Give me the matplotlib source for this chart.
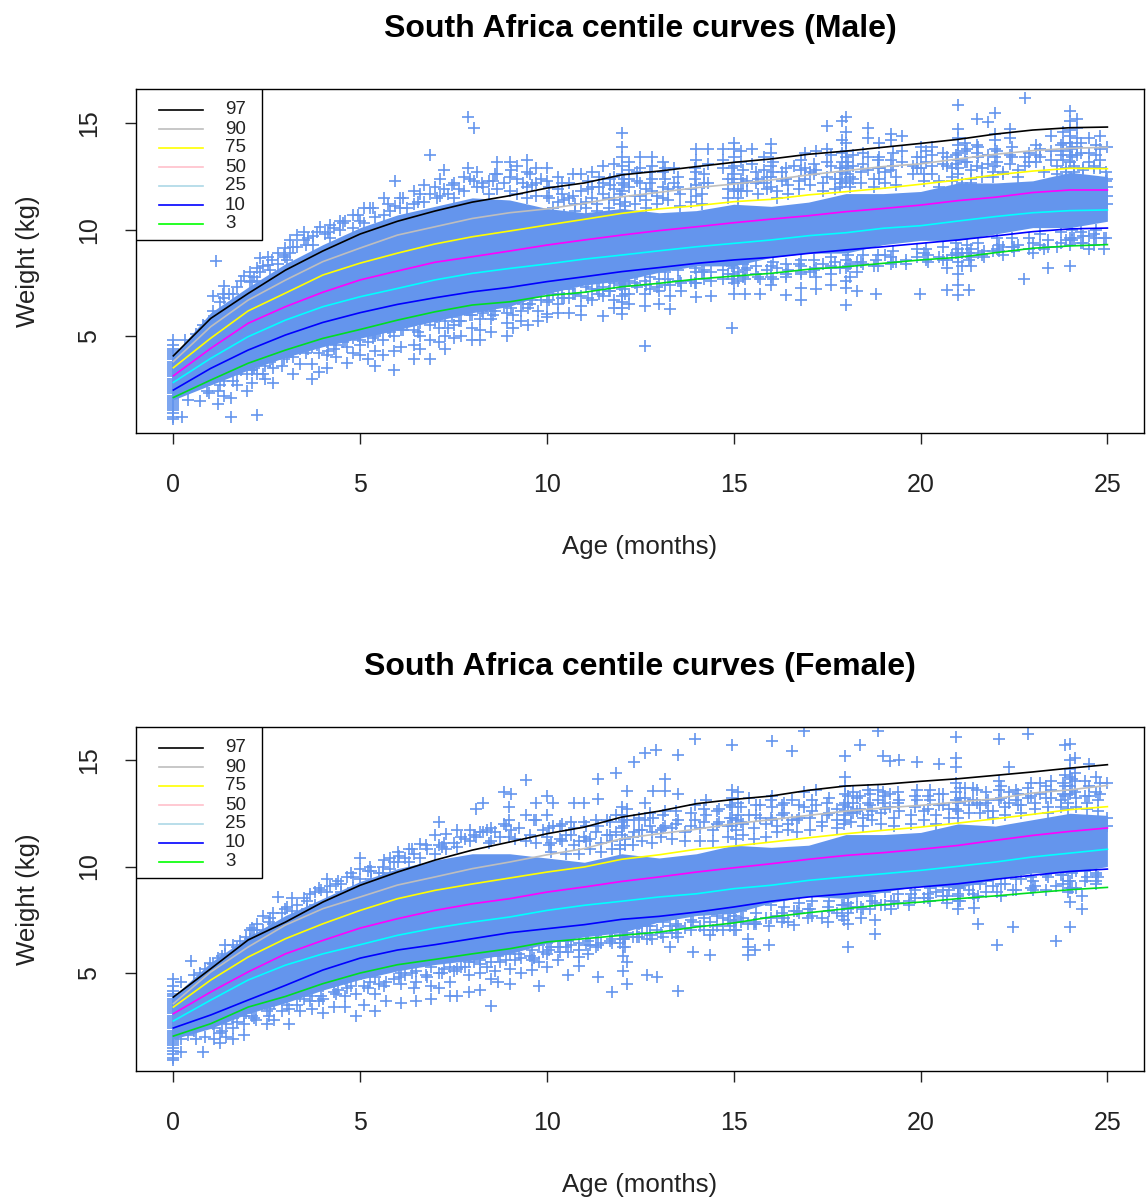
import numpy as np
import matplotlib
matplotlib.use("Agg")
import matplotlib.pyplot as plt
from matplotlib.patches import Rectangle

plt.rcParams['font.family'] = ['Liberation Sans', 'DejaVu Sans']

# centile curves at each month
curve_ages = [0, 1, 2, 3, 4, 5, 6, 7, 8, 9, 10, 11, 12, 13, 14, 15, 16, 17, 18, 19, 20, 21, 22, 23, 24, 25]
centile_labels = ['97', '90', '75', '50', '25', '10', '3']
curve_colors = ['black', '#BEBEBE', 'yellow', 'magenta', 'cyan', 'blue', '#00DD22']
legend_colors = ['black', '#BEBEBE', 'yellow', 'pink', 'lightblue', 'blue', 'lime']

male_curves = [
    [4.07, 5.83, 7.0, 8.1, 9.0, 9.8, 10.4, 10.88, 11.3, 11.6, 11.96, 12.2, 12.58, 12.76, 12.97, 13.17, 13.33, 13.55, 13.7, 13.88, 14.06, 14.25, 14.5, 14.69, 14.8, 14.83],
    [3.8, 5.44, 6.69, 7.63, 8.5, 9.14, 9.75, 10.14, 10.53, 10.8, 10.98, 11.24, 11.55, 11.76, 11.98, 12.15, 12.34, 12.58, 12.78, 12.97, 13.1, 13.33, 13.55, 13.72, 13.83, 13.88],
    [3.51, 4.9, 6.18, 7.02, 7.87, 8.43, 8.9, 9.33, 9.67, 9.94, 10.22, 10.49, 10.77, 10.98, 11.13, 11.32, 11.43, 11.64, 11.79, 11.95, 12.14, 12.34, 12.58, 12.76, 12.89, 12.87],
    [3.13, 4.42, 5.6, 6.38, 7.06, 7.64, 8.06, 8.47, 8.73, 9.0, 9.28, 9.52, 9.75, 9.96, 10.14, 10.33, 10.5, 10.66, 10.85, 11.0, 11.16, 11.37, 11.53, 11.75, 11.87, 11.87],
    [2.82, 3.95, 4.97, 5.75, 6.38, 6.85, 7.24, 7.64, 7.95, 8.18, 8.39, 8.62, 8.81, 9.01, 9.2, 9.36, 9.52, 9.72, 9.86, 10.07, 10.19, 10.41, 10.62, 10.8, 10.9, 10.93],
    [2.46, 3.48, 4.34, 5.05, 5.64, 6.1, 6.49, 6.8, 7.08, 7.29, 7.56, 7.79, 8.03, 8.22, 8.42, 8.58, 8.7, 8.89, 9.05, 9.2, 9.36, 9.52, 9.71, 9.91, 10.04, 10.08],
    [2.11, 2.93, 3.72, 4.34, 4.89, 5.31, 5.75, 6.14, 6.46, 6.61, 6.9, 7.06, 7.32, 7.48, 7.68, 7.82, 7.95, 8.14, 8.26, 8.42, 8.58, 8.7, 8.92, 9.13, 9.24, 9.3],
]
female_curves = [
    [3.87, 5.2, 6.55, 7.39, 8.33, 9.12, 9.74, 10.3, 10.77, 11.15, 11.54, 11.85, 12.32, 12.6, 12.95, 13.15, 13.31, 13.58, 13.78, 13.86, 14.0, 14.12, 14.28, 14.44, 14.62, 14.78],
    [3.56, 5.05, 6.22, 7.25, 8.02, 8.57, 9.13, 9.51, 9.9, 10.21, 10.55, 10.84, 11.31, 11.54, 11.75, 12.01, 12.2, 12.4, 12.6, 12.75, 12.87, 13.03, 13.18, 13.45, 13.6, 13.81],
    [3.4, 4.67, 5.75, 6.61, 7.31, 7.94, 8.49, 8.88, 9.18, 9.46, 9.74, 9.98, 10.34, 10.55, 10.81, 10.96, 11.15, 11.35, 11.54, 11.7, 11.85, 12.04, 12.24, 12.45, 12.67, 12.81],
    [3.09, 4.11, 5.05, 5.9, 6.53, 7.11, 7.55, 7.94, 8.25, 8.49, 8.8, 9.04, 9.3, 9.51, 9.74, 9.94, 10.13, 10.34, 10.52, 10.65, 10.81, 10.99, 11.23, 11.46, 11.65, 11.81],
    [2.75, 3.73, 4.67, 5.37, 5.9, 6.33, 6.77, 7.11, 7.39, 7.63, 7.94, 8.18, 8.37, 8.57, 8.72, 8.96, 9.12, 9.35, 9.51, 9.66, 9.82, 10.01, 10.21, 10.45, 10.63, 10.81],
    [2.42, 3.03, 3.73, 4.42, 5.14, 5.7, 6.08, 6.33, 6.61, 6.89, 7.08, 7.27, 7.52, 7.66, 7.86, 8.1, 8.37, 8.57, 8.72, 8.88, 9.04, 9.19, 9.4, 9.59, 9.77, 9.88],
    [2.04, 2.62, 3.4, 3.9, 4.5, 5.0, 5.39, 5.64, 5.9, 6.14, 6.46, 6.61, 6.77, 6.92, 7.16, 7.35, 7.63, 7.83, 8.02, 8.21, 8.33, 8.49, 8.62, 8.77, 8.91, 9.02],
]

# where the overlapping crosses merge into solid colour (edges)
male_solid_high = [4.1, 6.1, 7.3, 8.4, 9.3, 10.1, 10.7, 11.1, 11.5, 11.4, 11.0, 10.8, 11.0, 10.8, 10.9, 11.2, 11.1, 11.3, 11.7, 11.7, 11.8, 12.2, 12.2, 12.3, 12.7, 12.5]
male_solid_low = [2.0, 2.7, 3.4, 4.0, 4.5, 4.9, 5.3, 5.7, 6.1, 6.4, 7.0, 7.4, 7.6, 8.0, 8.3, 8.3, 8.7, 8.9, 8.9, 9.3, 9.5, 9.5, 9.8, 10.1, 10.1, 10.4]
female_solid_high = [3.9, 5.5, 6.7, 7.7, 8.5, 9.3, 9.9, 10.3, 10.6, 10.6, 10.4, 10.2, 10.6, 10.4, 10.6, 11.0, 10.9, 11.0, 11.5, 11.5, 11.6, 12.0, 11.9, 12.2, 12.5, 12.4]
female_solid_low = [1.9, 2.4, 3.1, 3.6, 4.2, 4.7, 5.1, 5.4, 5.6, 5.9, 6.4, 6.7, 6.9, 7.4, 7.7, 7.8, 8.3, 8.6, 8.5, 8.8, 9.1, 9.0, 9.4, 9.7, 9.7, 10.0]

# column of birth weights at age 0
male_birth = [1.1, 1.2, 1.4, 1.5, 1.6, 1.7, 1.8, 1.9, 2.0, 2.1, 2.2, 2.3, 2.4, 2.5, 2.6, 2.7, 2.8, 2.9, 3.0, 3.1, 3.2, 3.3, 3.4, 3.5, 3.6, 3.7, 3.8, 3.9, 4.0, 4.1, 4.2, 4.3, 4.4, 4.6, 4.8]
female_birth = [0.9, 1.0, 1.2, 1.35, 1.5, 1.6, 1.7, 1.8, 1.9, 2.0, 2.1, 2.2, 2.3, 2.4, 2.5, 2.6, 2.7, 2.8, 2.9, 3.0, 3.1, 3.2, 3.3, 3.4, 3.5, 3.6, 3.7, 3.8, 3.9, 4.0, 4.15, 4.4, 4.7]

# crosses above the solid part
male_upper_ages = [0.3, 0.6, 0.8, 1.06, 1.14, 1.33, 1.36, 1.5, 1.7, 1.89, 2.05, 2.23, 2.32, 2.54, 2.8, 3.0, 3.12, 3.3, 3.5, 3.75, 3.93, 4.2, 4.46, 4.82, 5.1, 5.27, 5.63, 5.94, 6.07, 6.43, 6.7, 6.88, 7.15, 7.24, 7.5, 7.77, 7.89, 8.04, 8.13, 8.44, 8.67, 9.0, 9.2, 9.47, 9.7,
                   10.0, 10.3, 10.6, 10.9, 11.2, 11.5, 11.8, 12.0, 12.2, 12.5, 12.8, 13.1, 13.4, 14.0, 14.3, 14.7, 15.0, 15.2, 15.5, 15.8, 16.0, 16.3, 16.6, 16.9, 17.2, 17.5, 17.9, 18.0, 18.2, 18.6, 18.9, 19.2, 19.5, 19.8, 20.0, 20.3, 20.7, 21.0, 21.2, 21.5, 21.8, 22.0, 22.4, 22.8, 23.1, 23.5, 23.8, 24.0, 24.2, 24.5, 24.8, 25.0]
male_upper_wts = [[4.8], [5.1], [5.5], [6.9, 6.2], [8.53], [7.0], [7.35, 6.8], [7.0], [7.3], [7.82], [7.55, 8.0], [7.6, 8.2], [8.67, 8.0], [8.35, 8.7], [8.9, 8.4], [9.14, 8.7], [8.9, 9.5], [9.75, 9.2], [9.5, 9.9], [9.7, 9.3], [10.13], [10.2, 9.6], [10.0, 10.4], [10.7, 10.1], [11.0, 10.3], [11.0], [11.5, 10.7], [12.3, 11.1], [11.5, 11.0], [11.8, 11.2], [12.1, 11.3], [13.52, 11.7], [12.4, 11.6], [12.8, 11.9], [12.2, 11.5], [12.5, 11.8], [15.3, 12.9], [14.8, 12.3], [12.7, 12.0], [12.3, 11.7], [13.2, 12.6, 11.9], [13.2, 12.5, 11.8], [12.4, 13.0, 11.7], [13.3, 12.7, 12.0, 11.5], [12.9, 12.2, 11.6],
                  [12.3, 12.9, 11.6], [11.9, 12.5, 11.3], [12.2, 11.5], [12.6, 11.8, 11.2], [12.7, 12.0, 11.5], [13.0, 12.2, 11.7], [13.1, 12.5, 11.9, 11.4], [14.55, 13.9, 13.4, 13.0, 12.6, 12.2, 11.8], [13.2, 12.8, 12.4, 12.0], [13.4, 12.9, 12.2, 11.6], [13.4, 13.0, 12.4, 11.8], [13.2, 12.7, 12.0, 11.5], [12.9, 12.2], [13.8, 13.3, 12.7, 12.1, 11.6], [13.8, 13.1, 12.2], [13.8, 13.3, 12.9], [14.1, 13.8, 13.4, 13.0, 12.6, 12.2, 11.8], [13.7, 13.2, 12.4, 11.8], [13.8, 13.1], [13.4, 12.8, 12.2], [14.05, 13.6, 13.0, 12.5, 12.0], [12.7, 12.3], [13.0], [13.6, 12.9, 12.4], [13.7, 12.8], [14.9, 13.8, 13.2, 12.5], [15.1, 14.2, 13.6, 13.2, 12.7, 12.2], [15.3, 14.6, 14.1, 13.7, 13.4, 13.0, 12.6, 12.3], [13.5, 13.0, 12.4], [14.8, 14.3, 13.4, 12.8], [14.1, 13.4, 12.9, 12.4], [14.5, 14.2, 13.3, 12.8], [14.4, 13.7, 13.2], [13.0, 12.6], [13.9, 13.4, 12.9], [13.9, 13.5, 13.0, 12.6], [13.4, 13.0], [15.85, 14.75, 14.3, 14.0, 13.6, 13.3, 12.9, 12.6], [14.1, 13.7, 13.2], [15.2, 14.0, 13.6, 13.0], [15.05, 13.5, 13.1], [15.5, 14.5, 14.2, 13.8, 13.4, 13.0], [14.75, 14.3, 13.5, 13.1], [16.2, 13.4, 13.0], [14.0, 13.5, 13.2], [14.4, 13.7, 13.3], [14.6, 14.1, 13.7, 13.3], [15.1, 15.6, 14.7, 14.4, 14.1, 13.8, 13.5, 13.2], [15.2, 14.8, 14.3, 13.9, 13.5], [14.3, 13.6, 13.2], [14.4, 13.8, 13.3, 12.9], [13.9, 12.4, 12.0, 11.6, 11.2]]

# crosses below the solid part
male_lower_ages = [0.23, 0.4, 0.72, 0.9, 1.2, 1.35, 1.53, 1.7, 1.96, 2.1, 2.25, 2.45, 2.67, 2.9, 3.2, 3.4, 3.7, 3.9, 4.1, 4.35, 4.64, 4.8, 5.0, 5.2, 5.4, 5.6, 5.9, 6.1, 6.43, 6.6, 6.88, 7.1, 7.28, 7.5, 7.7, 8.0, 8.2, 8.5, 8.94, 9.1, 9.3, 9.5, 9.76,
                   10.0, 10.3, 10.6, 10.9, 11.2, 11.5, 11.8, 12.0, 12.2, 12.63, 13.0, 13.3, 13.6, 14.0, 14.4, 14.7, 14.95, 15.0, 15.3, 15.7, 16.0, 16.4, 16.8, 17.2, 17.6, 18.0, 18.3, 18.8, 19.2, 19.6, 19.98, 20.2, 20.7, 21.0, 21.3, 21.7, 22.1, 22.5, 22.78, 23.0, 23.4, 24.0, 24.5, 24.9]
male_lower_wts = [[1.2], [2.0], [1.95], [2.4], [1.8, 2.4], [2.2, 2.9], [1.2, 2.1], [2.7, 3.2], [2.4, 3.2], [2.8, 3.4], [1.3, 3.2], [3.0, 3.6], [2.8, 3.5, 4.1], [3.6, 4.2], [3.2, 4.0, 4.6], [3.7, 4.4], [3.0, 3.7, 4.5], [3.3, 4.2, 4.7], [3.5, 4.1, 4.7], [4.0, 4.6], [3.75, 4.5, 5.0], [4.2, 4.9], [4.1, 4.6, 5.1], [3.9, 4.7], [3.6, 4.3, 5.1], [4.1, 4.8, 5.4], [3.4, 4.3, 5.0], [4.5, 5.3], [3.9, 4.6, 5.3], [4.4, 5.0], [3.9, 4.8, 5.5], [4.7, 5.4], [4.4, 5.0, 5.7], [4.9, 5.5], [5.0, 5.7], [4.8, 5.4, 6.0], [4.8, 5.3, 5.8], [5.2, 5.8, 6.2], [5.0, 5.6, 6.1], [5.4, 6.0], [5.7, 6.2], [5.5, 6.3], [5.7, 6.2],
                  [7.1, 6.6, 6.05, 5.9], [7.0, 6.5, 6.1], [7.2, 6.8, 6.1], [6.9, 6.0, 6.4], [7.2, 6.7], [7.3, 6.9, 5.95], [7.5, 6.7, 6.3], [7.6, 7.2, 6.9, 6.6, 6.3, 6.05], [7.6, 7.0, 6.5], [7.6, 7.0, 6.4, 4.53], [7.7, 7.1, 6.5], [7.4, 6.9, 6.25], [7.5, 7.1], [8.0, 7.5, 6.85], [8.0, 7.6, 6.9], [8.1, 7.7], [5.4], [8.2, 7.9, 7.5, 7.0], [8.1, 7.7, 7.0], [7.7, 7.0], [8.3, 7.8, 7.4], [7.8, 6.95], [8.3, 7.9, 7.25, 6.7], [8.2, 7.8, 7.2], [8.3, 7.9, 7.4], [8.6, 8.2, 7.6, 7.25, 6.45], [8.5, 8.0, 7.1], [8.6, 7.0], [8.7, 8.4], [8.6, 8.4], [7.0], [8.8, 8.5], [8.6, 8.2, 7.15], [9.1, 8.8, 8.5, 7.9, 7.4, 6.95], [8.9, 8.6, 7.15], [9.0, 8.7], [9.3, 9.0], [9.2, 9.0], [7.7], [9.4, 8.9], [9.5, 9.2, 8.2], [9.6, 9.3, 8.3], [9.7, 9.1], [9.6, 9.1]]

# crosses filling in between the solid part and the outer fringes
male_fill_ages = [0.5, 0.95, 1.25, 1.6, 1.8, 2.15, 2.4, 2.65, 2.95, 3.2, 3.6, 3.85, 4.05, 4.3, 4.6, 5.0, 5.4, 5.8, 6.25, 6.55, 7.05, 7.35, 7.65, 8.3, 8.55, 8.85, 9.35, 9.6, 9.85,
                  10.15, 10.45, 10.75, 11.05, 11.35, 11.65, 11.95, 12.1, 12.35, 12.65, 12.95, 13.25, 13.55, 13.85, 14.15, 14.85, 15.1, 15.35, 15.65, 15.9, 16.15, 16.45, 16.75, 17.05, 17.4, 17.7, 17.85, 18.1, 18.4, 18.75, 19.05, 19.35, 20.1, 20.5, 20.85, 21.1, 21.35, 21.65, 21.95, 22.2, 22.6, 23.3, 23.65, 23.9, 24.1, 24.35, 24.65, 24.95]
male_fill_wts = [[4.4, 3.5], [5.7, 2.3], [6.6, 2.7], [7.0, 2.9], [7.6, 3.4], [7.8, 3.5], [8.3, 3.2], [8.6, 3.9], [8.8, 3.9], [9.2, 4.3], [9.6, 4.4], [9.9, 4.6], [9.8, 4.9], [10.1, 4.4], [10.4, 4.8], [10.4, 4.8], [10.6, 5.0], [10.9, 5.2], [11.0, 5.5], [11.3, 5.2], [11.5, 5.9], [11.7, 5.4], [11.9, 5.7], [12.0, 6.1], [12.3, 6.0], [12.2, 6.4], [12.2, 6.5], [12.1, 6.7], [12.4, 6.7],
                 [10.5, 11.0, 7.0], [10.7, 11.4, 6.8], [10.9, 11.2, 7.0], [11.3, 11.0, 7.3], [11.2, 10.9, 7.2], [11.5, 11.0, 7.1], [11.7, 11.2, 7.4], [11.3, 11.1, 10.9, 7.4, 7.0], [11.6, 11.2, 7.5], [11.9, 11.4, 11.0, 7.4], [11.6, 11.2, 7.3], [11.9, 11.4, 7.7], [11.7, 11.1, 7.6], [11.9, 11.3, 7.6], [11.7, 11.2, 8.0], [12.4, 11.9, 11.5, 7.9], [11.9, 11.5, 11.0, 8.0, 7.6], [12.3, 11.8, 8.2], [12.4, 11.7, 7.8], [12.5, 11.9, 8.1], [11.8, 11.5, 8.2], [12.1, 11.7, 8.1], [12.3, 11.9, 8.4], [12.7, 12.1, 8.0], [12.2, 11.8, 8.4], [12.4, 11.9, 8.5], [12.9, 12.4, 12.0, 8.2], [12.5, 12.2, 12.0, 8.4, 7.8], [12.7, 12.2, 8.5], [12.4, 12.0, 8.3], [12.7, 12.2, 8.8], [12.5, 12.1, 8.5], [12.6, 12.3, 8.9], [12.3, 12.0, 8.7], [12.5, 12.9, 12.3, 8.8], [12.2, 12.0, 8.9, 8.3], [12.4, 12.8, 12.2, 9.1, 8.7, 8.3], [12.9, 12.5, 8.8], [12.7, 12.5, 9.0], [12.7, 12.6, 9.2, 8.8], [12.8, 12.5, 9.3], [12.7, 9.1], [13.0, 12.6, 9.2], [12.9, 12.7, 9.5], [13.0, 12.9, 12.7, 9.6], [12.9, 12.8, 9.7, 9.4], [13.0, 12.9, 9.8, 9.3], [12.7, 12.3, 9.6], [12.4, 12.0, 9.4]]

male_edge_ages = [2.1, 2.6, 3.05, 3.55, 4.15, 4.55, 4.95, 5.35, 5.75, 6.15, 6.6, 7.0, 7.45, 7.95, 8.25, 8.6, 9.05, 9.55,
                  10.05, 10.4, 10.7, 11.1, 11.4, 11.7, 12.05, 12.4, 12.75, 13.15, 13.5, 13.95, 14.2, 14.95, 15.25, 15.6, 16.05, 16.4, 16.8, 17.15, 17.6, 18.05, 18.45, 18.85, 19.25, 19.9, 20.15, 20.6, 20.95, 21.25, 21.55, 22.05, 22.45, 22.9, 23.2, 23.75, 24.05, 24.3, 24.7]
male_edge_wts = [[7.6, 3.4], [8.1, 3.8], [8.6, 4.0], [9.3, 4.2], [9.9, 4.3], [10.3, 4.7], [10.7, 5.0], [11.0, 4.9], [11.2, 5.4], [11.5, 5.3], [11.7, 5.6], [12.0, 5.7], [12.1, 5.9], [12.4, 6.0], [12.2, 6.2], [12.6, 6.2], [12.8, 6.3], [12.6, 6.5],
                 [11.5, 12.0, 7.3, 6.7], [11.7, 12.2, 7.2, 6.8], [11.6, 12.6, 7.4, 7.0], [11.9, 12.3, 7.5, 6.8], [12.0, 12.5, 7.6, 7.0], [12.1, 12.4, 7.7, 7.1], [12.4, 12.1, 7.8, 7.5], [12.3, 12.7, 7.9, 7.3], [12.2, 12.7, 7.8, 7.2], [12.4, 12.9, 8.0, 7.4], [12.5, 12.0, 8.1, 7.6], [12.4, 12.9, 8.2, 7.5], [12.6, 12.2, 8.1, 7.7], [12.4, 12.9, 8.3, 7.7], [12.8, 12.2, 8.4, 7.8], [12.7, 12.2, 8.3, 7.9], [12.7, 13.2, 8.5, 7.7], [12.9, 12.4, 8.4, 7.9], [12.8, 13.3, 8.6, 8.0], [13.1, 12.6, 8.6, 8.1], [13.0, 13.5, 8.7, 8.2], [13.2, 12.9, 8.8, 8.3], [13.1, 13.6, 8.8, 8.4], [13.3, 12.9, 8.8, 8.3], [13.0, 13.6, 9.0, 8.5], [13.4, 12.9, 9.1, 8.7], [13.2, 13.7, 9.1, 8.6], [13.1, 13.6, 9.2, 8.6], [13.5, 13.1, 9.4, 8.9], [13.2, 13.8, 9.3, 8.9], [13.4, 13.9, 9.4, 8.9], [13.2, 13.7, 9.6, 9.1], [13.4, 13.9, 9.6, 9.2], [13.6, 13.2, 9.6, 9.1], [13.8, 13.4, 9.8, 9.3], [13.5, 14.0, 9.9, 9.4], [13.9, 13.4, 10.0, 9.5], [13.6, 14.1, 9.9, 9.4], [13.5, 14.0, 10.0, 9.6]]

female_upper_ages = [0.2, 0.46, 0.7, 0.98, 1.2, 1.38, 1.6, 1.78, 2.05, 2.25, 2.4, 2.67, 2.8, 3.0, 3.17, 3.57, 3.8, 4.1, 4.2, 4.5, 4.8, 5.0, 5.3, 5.6, 5.8, 6.0, 6.3, 6.6, 7.0, 7.1, 7.3, 7.6, 7.95, 8.1, 8.3, 8.45, 8.5, 8.85, 8.98, 9.05, 9.43, 9.7,
                     10.0, 10.17, 10.4, 10.73, 11.0, 11.36, 11.6, 11.86, 12.0, 12.15, 12.34, 12.63, 12.84, 12.92, 13.15, 13.5, 13.95, 14.26, 14.6, 14.95, 15.1, 15.4, 15.7, 16.02, 16.3, 16.56, 16.88, 17.2, 17.5, 17.98, 18.2, 18.38, 18.6, 18.85, 19.0, 19.17, 19.43, 19.9, 20.2, 20.48, 20.96, 21.2, 21.5, 21.8, 22.1, 22.36, 22.6, 22.88, 23.2, 23.5, 23.86, 24.0, 24.13, 24.5, 24.8, 25.0]
female_upper_wts = [[4.6], [5.55], [5.0], [5.45], [5.7], [6.3, 5.9], [6.3], [6.5, 6.1], [7.0, 6.6], [7.3, 6.8], [7.7, 7.0], [7.8, 7.3], [8.55], [8.0], [8.5, 7.9], [8.4, 8.0], [8.8, 8.2], [9.4, 8.8], [9.1], [9.2, 8.8], [9.5, 9.0], [10.4, 9.9, 9.4], [9.8, 9.4], [10.0, 9.7], [10.4, 9.9], [10.7, 10.2], [10.8, 10.2], [11.05, 10.4], [11.5, 10.6], [12.1, 11.0], [11.55, 10.8], [11.7, 10.9], [11.7, 11.2], [12.7, 11.4], [13.0, 11.6], [11.1], [11.8, 11.2], [13.5, 12.0], [12.8, 12.2, 11.4], [13.4, 11.7], [14.05, 12.4, 11.2], [13.0, 12.2, 11.1],
                    [13.3, 12.4, 11.4], [13.0, 11.9], [12.0, 11.2], [13.0, 11.8, 11.0], [13.0, 12.1, 11.4], [14.1, 13.15, 11.9], [12.2, 11.5], [14.4, 12.4, 11.6], [12.8, 12.4, 12.1, 11.8, 11.5], [13.55, 12.7, 12.2], [14.9, 12.2, 11.6], [15.35, 13.0, 12.2], [13.55, 12.3], [15.45], [14.1, 13.55, 12.6, 11.9], [15.25, 13.4, 12.2], [16.0, 12.9, 12.2], [13.1, 12.4], [12.7, 12.1], [15.7, 13.6, 13.2, 12.8, 12.3, 11.9], [13.5, 13.0, 12.4], [13.2, 12.4], [12.9, 12.3], [15.9, 13.3, 12.8, 12.2], [12.9, 12.4], [15.4, 13.1, 12.2], [16.36, 13.5, 12.8], [13.6, 12.9], [13.0, 12.4], [15.2, 14.2, 13.8, 13.4, 13.0, 12.6, 12.2], [13.5, 13.0, 12.5], [15.7, 13.3, 12.7], [13.6, 13.0, 12.4], [16.36, 13.6, 13.1], [15.2, 13.5, 13.0], [14.95, 13.4, 12.8], [15.0, 13.1, 12.6], [14.9, 13.6, 13.1], [13.3, 12.7], [14.8, 13.4, 12.9], [16.1, 15.1, 14.65, 13.9, 13.5, 13.1, 12.7], [13.7, 13.2], [13.6, 13.0], [13.1, 12.6], [16.0, 14.0, 13.6, 13.1], [14.65, 13.5, 13.0], [13.4, 12.9], [16.2, 13.7, 13.2], [13.9, 13.4], [14.0, 13.6, 13.2], [15.7, 14.3, 13.8, 13.3], [15.75, 15.0, 14.6, 14.2, 13.8, 13.4], [15.1, 14.4, 14.0, 13.5], [14.8, 13.8, 13.3], [13.9, 13.4], [13.9, 12.3, 11.9]]

female_lower_ages = [0.2, 0.4, 0.6, 0.8, 1.1, 1.25, 1.4, 1.6, 1.9, 2.2, 2.5, 2.7, 3.1, 3.4, 3.7, 4.0, 4.3, 4.6, 4.9, 5.1, 5.4, 5.7, 6.1, 6.5, 6.9, 7.1, 7.4, 7.6, 7.9, 8.2, 8.5, 8.7, 9.0, 9.3, 9.6, 9.8,
                     10.0, 10.3, 10.55, 10.86, 11.1, 11.36, 11.75, 12.03, 12.15, 12.4, 12.68, 12.94, 13.3, 13.5, 13.9, 14.37, 14.7, 15.0, 15.37, 15.58, 15.93, 16.3, 16.6, 17.0, 17.53, 17.9, 18.06, 18.4, 18.78, 19.2, 19.7, 20.2, 20.7, 21.0, 21.43, 21.54, 22.04, 22.47, 23.0, 23.62, 24.0, 24.33, 24.7]
female_lower_wts = [[1.9, 1.3], [2.1], [1.9, 2.5], [1.3], [1.9, 2.4], [1.7, 2.2], [2.0, 2.6], [1.9, 2.4, 2.9], [2.1, 2.6, 3.0], [2.8, 3.3], [2.6, 3.2, 3.7], [2.8, 3.6], [2.6, 3.3, 4.0], [3.2, 3.9], [3.3, 3.9, 4.4], [3.1, 3.8, 4.4], [3.4, 4.1, 4.6], [3.4, 3.9, 4.7], [3.0, 4.0, 4.7], [3.5, 4.4], [3.2, 4.0, 4.8], [3.7, 4.6], [3.6, 4.5, 5.0], [3.7, 4.6, 5.1], [3.8, 4.4, 5.3], [4.3, 5.0], [3.9, 4.6, 5.3], [3.9, 5.2], [4.1, 4.9, 5.5], [4.2, 5.0, 5.6], [3.45, 4.7, 5.5], [4.6, 5.8], [4.5, 5.2, 5.9], [5.0, 5.7], [5.14, 5.6, 6.1], [4.4, 5.5, 6.3],
                    [6.4, 5.9, 5.3], [6.2, 5.6], [4.9, 6.0, 6.5], [5.35, 5.75, 6.4], [6.5, 5.9], [4.8, 6.3, 6.9], [4.1, 6.4, 7.0], [5.1, 5.8, 6.2, 6.6, 7.0], [4.5, 5.5, 6.9], [6.7, 7.1], [4.9, 6.6, 7.2], [4.8, 7.0], [6.2, 7.2], [4.15, 6.7, 7.2], [6.0, 7.4], [5.85, 6.8, 7.4], [7.0, 7.6], [7.0, 7.4, 7.7], [5.85, 6.2, 6.6, 7.3], [6.1, 7.4], [6.3, 7.2], [7.4, 7.8], [7.25, 7.9], [7.6, 8.0], [7.4, 8.1], [7.7, 8.2], [6.2, 7.3, 7.8, 8.3], [7.6, 8.1], [6.85, 7.5, 8.3], [8.4, 8.0], [8.4, 8.2], [8.5, 8.7], [8.6, 8.3], [8.0, 8.4, 8.7, 9.0], [8.05, 8.5], [7.3, 8.6], [6.3, 8.8], [7.15, 8.9], [8.9, 9.3], [6.5, 9.1], [7.15, 8.35, 9.0, 9.3], [8.0, 8.6], [9.3, 9.6]]

female_fill_ages = [0.55, 0.85, 1.05, 1.3, 1.7, 1.95, 2.15, 2.55, 2.9, 3.3, 3.65, 3.95, 4.35, 4.65, 5.2, 5.5, 5.9, 6.2, 6.45, 6.8, 7.2, 7.5, 7.8, 8.2, 8.6, 8.75, 9.15, 9.55, 9.9,
                    10.1, 10.5, 10.85, 11.15, 11.45, 11.75, 11.95, 12.1, 12.3, 12.55, 12.8, 13.05, 13.35, 13.7, 14.1, 14.45, 14.85, 15.05, 15.25, 15.55, 15.85, 16.15, 16.45, 16.7, 17.05, 17.35, 17.75, 17.95, 18.15, 18.45, 18.7, 18.95, 19.3, 19.75, 20.1, 20.4, 20.75, 21.0, 21.3, 21.6, 21.95, 22.25, 22.7, 23.05, 23.4, 23.75, 23.95, 24.15, 24.45, 24.75]
female_fill_wts = [[4.9, 2.3], [5.2, 2.0], [5.4, 2.6], [5.8, 2.3], [6.2, 2.7], [6.7, 3.1], [7.0, 2.9], [7.4, 3.0], [7.8, 3.2], [8.2, 3.5], [8.7, 3.7], [8.9, 3.9], [9.2, 4.0], [9.5, 4.3], [9.8, 4.3], [9.7, 4.5], [10.2, 4.7], [10.4, 4.9], [10.6, 4.3], [10.8, 4.8], [10.9, 5.0], [11.1, 5.1], [11.3, 5.3], [11.6, 5.4], [11.6, 5.1], [11.4, 5.5], [11.3, 5.6], [11.5, 5.8], [11.7, 6.0],
                   [10.7, 11.1, 6.2], [10.6, 11.5, 6.2], [10.6, 11.2, 6.1], [10.8, 11.3, 6.3], [11.1, 10.7, 6.4], [11.2, 10.8, 6.6], [11.0, 10.8, 6.8, 6.4], [11.3, 11.0, 6.7, 6.2], [11.0, 11.4, 6.7], [11.2, 11.7, 6.9], [11.6, 11.1, 6.6], [11.4, 11.7, 6.9], [11.8, 11.3, 6.9], [11.2, 11.6, 7.1], [11.8, 11.2, 7.2], [11.7, 11.2, 7.0], [11.9, 11.4, 7.5], [12.2, 11.7, 11.3, 7.5, 7.0], [12.0, 11.5, 7.6], [11.8, 11.3, 7.3], [12.0, 11.4, 7.6], [11.6, 11.9, 7.7], [11.7, 12.0, 7.4], [12.2, 11.6, 7.9], [12.3, 11.7, 8.0], [11.9, 12.1, 7.6], [12.7, 12.2, 11.8, 7.8], [12.9, 12.4, 12.0, 8.2, 7.5], [12.5, 12.1, 8.1], [12.3, 11.9, 8.0], [12.6, 12.2, 8.4], [12.5, 12.0, 8.2], [12.3, 11.9, 8.4], [12.4, 12.0, 8.7], [12.2, 12.6, 8.5], [12.0, 12.4, 8.8], [12.3, 12.7, 8.9], [13.0, 12.6, 12.3, 9.0, 8.6], [12.9, 12.5, 8.9], [12.5, 12.9, 9.2], [12.6, 12.3, 9.1], [12.8, 12.4, 9.2], [12.5, 12.9, 9.4], [12.7, 13.0, 9.1], [12.8, 12.5, 9.5], [13.1, 12.8, 9.6], [13.0, 12.7, 9.3, 8.8], [13.2, 12.8, 9.8, 9.0], [13.0, 12.7, 9.5], [13.1, 12.6, 9.5]]

female_edge_ages = [2.1, 2.6, 3.05, 3.5, 3.9, 4.4, 4.75, 5.25, 5.65, 6.05, 6.4, 6.75, 7.25, 7.7, 8.05, 8.4, 8.9, 9.25, 9.65,
                    10.05, 10.35, 10.65, 11.05, 11.3, 11.7, 12.05, 12.45, 12.75, 13.1, 13.45, 13.85, 14.2, 14.55, 14.9, 15.2, 15.6, 16.0, 16.35, 16.75, 17.1, 17.55, 18.05, 18.3, 18.65, 19.05, 19.4, 19.85, 20.25, 20.6, 21.05, 21.4, 21.75, 22.15, 22.55, 22.95, 23.35, 23.8, 24.05, 24.4, 24.7]
female_edge_wts = [[7.1, 3.0], [7.6, 3.3], [8.1, 3.5], [8.5, 3.8], [9.0, 3.7], [9.3, 4.2], [9.7, 4.4], [10.0, 4.6], [10.3, 4.4], [10.5, 4.8], [10.8, 5.0], [11.0, 4.9], [11.1, 5.2], [11.4, 5.3], [11.5, 5.5], [11.7, 5.3], [11.9, 5.6], [11.8, 5.9], [12.2, 5.7],
                   [11.0, 11.8, 6.7, 6.1], [11.3, 11.9, 6.5, 6.0], [11.5, 12.1, 6.8, 6.3], [11.2, 11.9, 6.9, 6.3], [11.6, 12.2, 6.8, 6.2], [11.5, 12.1, 7.0, 6.5], [11.9, 12.2, 7.2, 6.6], [11.7, 12.3, 7.3, 6.7], [11.9, 12.5, 7.2, 6.8], [11.8, 12.4, 7.4, 6.7], [12.0, 12.6, 7.3, 6.9], [11.9, 12.5, 7.5, 7.0], [12.1, 12.7, 7.6, 7.0], [12.0, 12.6, 7.7, 7.2], [12.3, 12.9, 7.8, 7.2], [12.1, 12.8, 7.9, 7.4], [12.4, 12.9, 7.8, 7.3], [12.3, 13.1, 8.2, 7.6], [12.5, 13.0, 8.1, 7.6], [12.3, 12.9, 8.3, 7.8], [12.6, 13.1, 8.4, 7.7], [12.5, 13.2, 8.4, 7.9], [13.3, 12.8, 8.6, 8.0], [12.6, 13.2, 8.6, 8.1], [12.9, 13.4, 8.6, 8.0], [12.7, 13.3, 8.8, 8.2], [13.0, 13.5, 8.7, 8.3], [12.8, 13.3, 8.9, 8.5], [13.1, 13.6, 9.0, 8.4], [12.9, 13.4, 8.9, 8.6], [13.2, 13.7, 9.0, 8.4], [13.1, 13.7, 9.2, 8.7], [13.0, 13.5, 9.3, 8.8], [13.2, 13.8, 9.2, 8.6], [13.1, 13.6, 9.4, 8.9], [13.3, 13.9, 9.5, 9.0], [13.2, 13.8, 9.6, 8.9], [13.4, 13.9, 9.6, 9.2], [13.6, 14.1, 9.7, 9.0], [13.3, 14.0, 9.8, 9.3], [13.5, 14.2, 9.7, 9.2]]


def to_axes(fig, left, top, right, bottom):
    w, h = fig.get_size_inches() * fig.dpi
    return fig.add_axes([left / w, 1 - bottom / h, (right - left) / w, (bottom - top) / h])


def draw_panel(ax, title, curves, solid_low, solid_high, birth, cross_sets, ylim):
    ax.fill_between(curve_ages, solid_low, solid_high, color='cornflowerblue', lw=0)
    xs = [0] * len(birth)
    ys = list(birth)
    for ages, wts in cross_sets:
        for a, w in zip(ages, wts):
            xs += [a] * len(w)
            ys += w
    ax.plot(xs, ys, '+', color='cornflowerblue', ms=9, mew=1.2)

    for vals, c in zip(curves, curve_colors):
        ax.plot(curve_ages, vals, color=c, lw=1.2)

    ax.set_xlim(-1.0, 25.98)
    ax.set_ylim(*ylim)
    ax.set_xticks([0, 5, 10, 15, 20, 25])
    ax.set_yticks([5, 10, 15])
    ax.tick_params(length=8, width=1.0, labelsize=18, colors='#222222')
    ax.tick_params(axis='x', pad=21)
    ax.tick_params(axis='y', pad=17)
    for lab in ax.get_yticklabels():
        lab.set_rotation(90)
        lab.set_va('center')
    for s in ax.spines.values():
        s.set_linewidth(1.0)
    ax.set_xlabel('Age (months)', fontsize=18.6, labelpad=27.5, color='#222222')
    ax.set_ylabel('Weight (kg)', fontsize=18.6, labelpad=27, color='#222222')
    ax.set_title(title, fontsize=23, fontweight='bold', pad=37.5)

    # R style legend box, placed in pixels from the top left corner of the axes
    bbox = ax.get_window_extent()
    W, H = bbox.width, bbox.height
    ax.add_patch(Rectangle((0, 1 - 151 / H), 126 / W, 151 / H, transform=ax.transAxes,
                           fc='white', ec='black', lw=1.0, zorder=5))
    for i, (c, lab) in enumerate(zip(legend_colors, centile_labels)):
        y = 1 - (21 + 19 * i) / H
        ax.plot([23 / W, 67 / W], [y, y], color=c, lw=1.2, transform=ax.transAxes, zorder=6)
        ax.text(89 / W, y, lab, fontsize=13.5, va='center', ha='left', color='#222222',
                transform=ax.transAxes, zorder=6)


fig = plt.figure(figsize=(11.47, 12), dpi=100)
ax1 = to_axes(fig, 136, 89, 1144, 433)
ax2 = to_axes(fig, 136, 727, 1144, 1071)
draw_panel(ax1, 'South Africa centile curves (Male)', male_curves, male_solid_low, male_solid_high, male_birth,
           [(male_upper_ages, male_upper_wts), (male_lower_ages, male_lower_wts),
            (male_fill_ages, male_fill_wts), (male_edge_ages, male_edge_wts)],
           (0.44, 16.62))
draw_panel(ax2, 'South Africa centile curves (Female)', female_curves, female_solid_low, female_solid_high, female_birth,
           [(female_upper_ages, female_upper_wts), (female_lower_ages, female_lower_wts),
            (female_fill_ages, female_fill_wts), (female_edge_ages, female_edge_wts)],
           (0.4, 16.55))
fig.savefig('out.png', dpi=100)
